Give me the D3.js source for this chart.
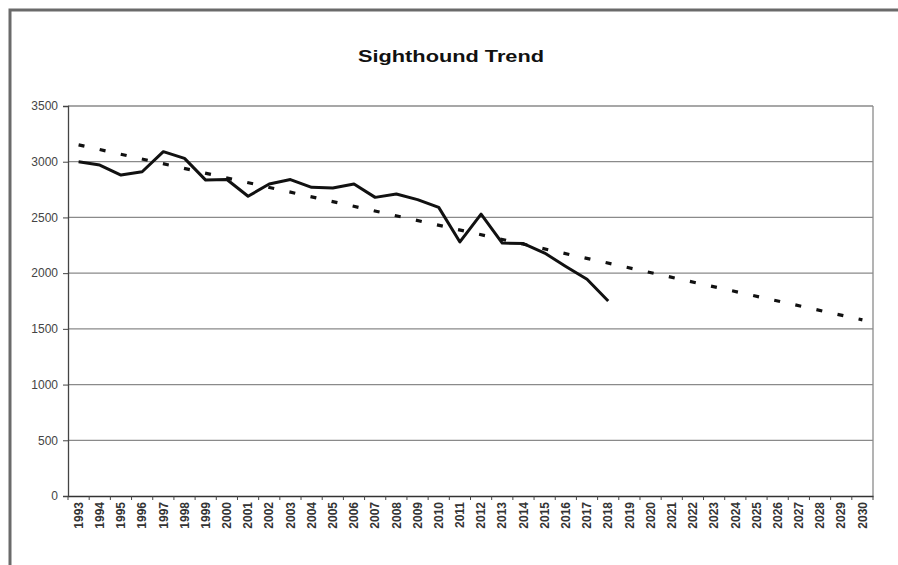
<!DOCTYPE html>
<html>
<head>
<meta charset="utf-8">
<script src="https://cdn.jsdelivr.net/npm/d3@7/dist/d3.min.js"></script>
<style>
  html, body { margin: 0; padding: 0; background: #fff; }
  svg { display: block; font-family: Arial, "Liberation Sans", sans-serif; }
</style>
</head>
<body>
<svg id="chart" width="898" height="565"></svg>
<script>
// ---- data ----
const title = "Sighthound Trend";
const years = d3.range(1993, 2031).map(String);           // category labels 1993..2030
const registrations = [3000, 2970, 2880, 2910, 3090, 3030, 2835, 2840, 2690, 2800,
                       2840, 2770, 2765, 2800, 2680, 2710, 2660, 2590, 2280, 2530,
                       2270, 2265, 2180, 2060, 1945, 1750];    // 1993..2018
const yTicks = [0, 500, 1000, 1500, 2000, 2500, 3000, 3500];

// ---- layout ----
const svg = d3.select("#chart");
const pLeft = 68, pRight = 873, pTop = 106, pBottom = 496;

const x = d3.scaleBand().domain(years).range([pLeft, pRight]).padding(0);
const cx = d => x(d) + x.bandwidth() / 2;
const y = d3.scaleLinear().domain([0, 3500]).range([pBottom, pTop]);

// outer chart frame (cropped screenshot: only top and left edges visible)
svg.append("path")
  .attr("d", `M10,565 L10,10 L898,10`)
  .attr("fill", "none").attr("stroke", "#6a6a6a").attr("stroke-width", 3);

// title
svg.append("text")
  .attr("x", 451).attr("y", 62)
  .attr("text-anchor", "middle")
  .attr("font-size", 17).attr("font-weight", "bold").attr("fill", "#111")
  .attr("textLength", 186).attr("lengthAdjust", "spacingAndGlyphs")
  .text(title);

// gridlines
svg.append("g").selectAll("line").data(yTicks.filter(t => t > 0)).join("line")
  .attr("x1", pLeft).attr("x2", pRight)
  .attr("y1", d => y(d)).attr("y2", d => y(d))
  .attr("stroke", "#8a8a8a").attr("stroke-width", 1.3);

// plot area right border
svg.append("line")
  .attr("x1", pRight).attr("x2", pRight).attr("y1", pTop).attr("y2", pBottom)
  .attr("stroke", "#8a8a8a").attr("stroke-width", 1.3);

// y axis
const yAxis = d3.axisLeft(y).tickValues(yTicks).tickSize(5).tickPadding(5).tickFormat(d3.format("d"));
const gy = svg.append("g").attr("transform", `translate(${pLeft},0)`).call(yAxis);
gy.select(".domain").attr("stroke", "#444").attr("stroke-width", 1.3);
gy.selectAll(".tick line").attr("stroke", "#444");
gy.selectAll(".tick text").attr("font-size", 12).attr("fill", "#444")
  .attr("font-family", "Arial, 'Liberation Sans', sans-serif");

// x axis
const xAxis = d3.axisBottom(x).tickSize(0).tickPadding(0);
const gx = svg.append("g").attr("transform", `translate(0,${pBottom})`).call(xAxis);
gx.select(".domain").attr("stroke", "#333").attr("stroke-width", 1.5);
gx.selectAll(".tick text")
  .attr("font-size", 12).attr("font-weight", "bold").attr("fill", "#333")
  .attr("font-family", "Arial, 'Liberation Sans', sans-serif")
  .attr("text-anchor", "end")
  .attr("transform", "translate(0,6) rotate(-90)")
  .attr("x", 0).attr("y", 0).attr("dy", "0.35em");
// category boundary tick marks
svg.append("g").selectAll("line").data(years.concat(["end"])).join("line")
  .attr("x1", (d, i) => pLeft + i * x.bandwidth())
  .attr("x2", (d, i) => pLeft + i * x.bandwidth())
  .attr("y1", pBottom).attr("y2", pBottom + 4)
  .attr("stroke", "#444").attr("stroke-width", 1);

// linear trendline (least squares over the actual data), extended to 2030
const n = registrations.length;
const mx = d3.mean(d3.range(n)), my = d3.mean(registrations);
const slope = d3.sum(registrations, (v, i) => (i - mx) * (v - my)) /
              d3.sum(d3.range(n), i => (i - mx) * (i - mx));
const intercept = my - slope * mx;
const trend = [0, years.length - 1].map(i => ({ yr: years[i], v: intercept + slope * i }));

svg.append("path")
  .datum(trend)
  .attr("d", d3.line().x(d => cx(d.yr)).y(d => y(d.v)))
  .attr("fill", "none").attr("stroke", "#111").attr("stroke-width", 3.2)
  .attr("stroke-dasharray", "6,15.6");

// actual series
svg.append("path")
  .datum(registrations.map((v, i) => ({ yr: years[i], v })))
  .attr("d", d3.line().x(d => cx(d.yr)).y(d => y(d.v)))
  .attr("fill", "none").attr("stroke", "#111").attr("stroke-width", 3)
  .attr("stroke-linejoin", "round");
</script>
</body>
</html>
